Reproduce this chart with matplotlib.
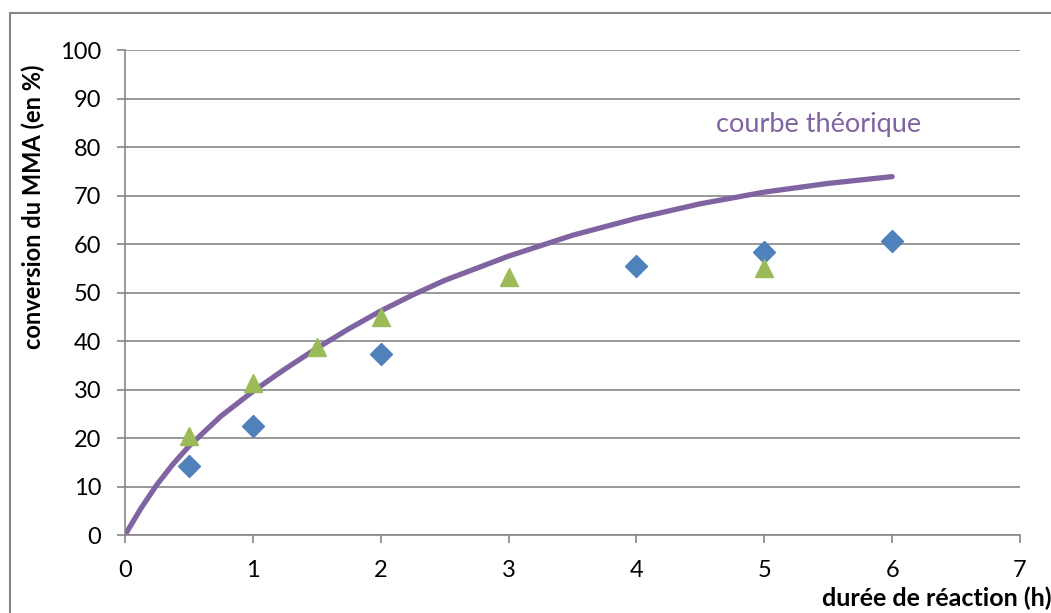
import numpy as np
import matplotlib
matplotlib.use("Agg")
import matplotlib.pyplot as plt
from matplotlib.patches import Rectangle

plt.rcParams['font.family'] = ['Lato', 'DejaVu Sans']

# experimental points (blue diamonds)
t_blue = [0.5, 1, 2, 4, 5, 6]
conv_blue = [14.2, 22.5, 37.3, 55.4, 58.3, 60.6]
# experimental points (green triangles)
t_green = [0.5, 1, 1.5, 2, 3, 5]
conv_green = [20.4, 31.3, 38.8, 45.0, 53.3, 55.0]
# theoretical curve
t_theo = [0, 0.125, 0.25, 0.375, 0.5, 0.75, 1, 1.25, 1.5, 1.75, 2, 2.25, 2.5,
          3, 3.5, 4, 4.5, 5, 5.5, 6]
conv_theo = [0, 5.5, 10.4, 14.6, 18.3, 24.5, 29.6, 34.2, 38.5, 42.5, 46.2, 49.5,
             52.5, 57.5, 61.8, 65.3, 68.3, 70.7, 72.5, 73.9]

grey = '#868686'

fig = plt.figure(figsize=(10.51, 6.13), dpi=100)
ax = fig.add_axes([0.1189, 0.1272, 0.8516, 0.7912])

ax.plot(t_theo, conv_theo, color='#8064A2', lw=3.8, solid_capstyle='round',
        solid_joinstyle='round', zorder=2)
ax.plot(t_blue, conv_blue, 'D', color='#4F81BD', ms=11, mec='#4F81BD', zorder=3)
ax.plot(t_green, conv_green, '^', color='#9BBB59', ms=13, mec='#9BBB59', zorder=3)

ax.set_xlim(0, 7)
ax.set_ylim(0, 100)
ax.set_xticks(range(0, 8))
ax.set_yticks(range(0, 101, 10))
ax.yaxis.grid(True, color=grey, lw=1.2)
ax.set_axisbelow(True)
for s in ['top', 'right']:
    ax.spines[s].set_visible(False)
for s in ['left', 'bottom']:
    ax.spines[s].set_color(grey)
    ax.spines[s].set_linewidth(1.2)
ax.tick_params(axis='both', colors=grey, length=6, width=1.2, labelsize=17,
               labelcolor='black', direction='out')
ax.tick_params(axis='y', pad=11)
ax.tick_params(axis='x', pad=12)

ax.text(4.62, 83, 'courbe théorique', color='#8064A2', fontsize=19.5)

fig.text(33 / 1051, 1 - 207 / 613, 'conversion du MMA (en %)', rotation=90,
         ha='center', va='center', fontsize=17, fontweight='bold')
fig.text(822 / 1051, 1 - 598 / 613, 'durée de réaction (h)', ha='left',
         va='center', fontsize=18, fontweight='bold')

fig.patches.append(Rectangle((10 / 1051, -0.1), 1.2, 1 - 13 / 613 + 0.1,
                             transform=fig.transFigure, fill=False,
                             edgecolor=grey, lw=1.5))

fig.savefig('out.png', dpi=100)
